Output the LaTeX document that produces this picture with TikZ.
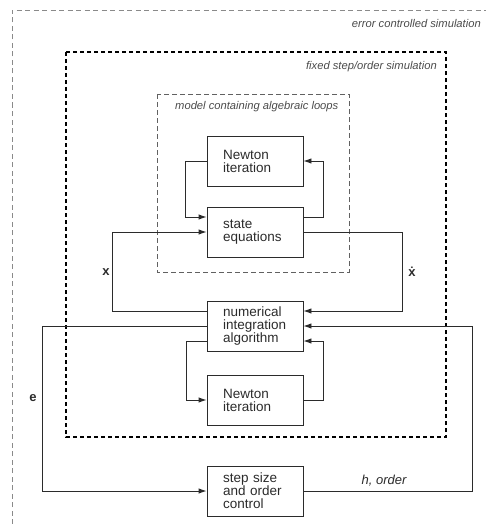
\documentclass[tikz,border=0pt]{standalone}
\usepackage{fontspec}
\setmainfont{Liberation Sans}
\usetikzlibrary{arrows.meta}
\definecolor{ink}{HTML}{2B2B2B}
\definecolor{frame}{HTML}{8A8A8A}
\tikzset{
    block/.style={draw=ink, line width=0.9pt, minimum width=96pt, minimum height=50pt,
        text width=64pt, inner xsep=16pt, align=left, text=ink,
        font=\fontsize{13.5}{13}\selectfont},
    flow/.style={draw=ink, line width=0.9pt, -{Latex[length=8pt,width=5.5pt]}},
    boxlabel/.style={font=\fontsize{11.2}{13}\selectfont\itshape, text=ink!85, inner sep=0pt},
    sigmark/.style={font=\fontsize{13}{15}\selectfont\bfseries, text=ink}
}
\begin{document}
\begin{tikzpicture}[x=1pt, y=-1pt]
        \useasboundingbox (0,0) rectangle (486,524);
        % the three simulation layers
        \draw[frame, line width=0.6pt, dash pattern=on 5pt off 3.5pt] (12,524) -- (12,10) -- (486,10);
        \draw[black, line width=1.2pt, dash pattern=on 4pt off 3pt] (66,52) rectangle (446,437);
        \draw[frame!70!black, line width=0.7pt, dash pattern=on 5pt off 3pt] (157,94) rectangle (349,272);
        \node[boxlabel, anchor=east] (errlabel) at (481,24) {error controlled simulation};
        \node[boxlabel, anchor=east] (fixlabel) at (437,67) {fixed step/order simulation};
        \node[boxlabel, anchor=west] (modlabel) at (175,107) {model containing algebraic loops};
        % Draw the blocks
        \node[block] (newtonA) at (255,161) {Newton iteration};
        \node[block] (state) at (255,232) {state equations};
        \node[block] (num) at (255,326) {numerical integration algorithm};
        \node[block] (newtonB) at (255,400) {Newton iteration};
        \node[block] (step) at (255,491) {step size and order control};
        % algebraic loop in the model
        \draw[flow] (newtonA.west) -- ++(-21,0) |- ([yshift=15pt]state.west);
        \draw[flow] ([yshift=15pt]state.east) -- ++(20,0) |- (newtonA.east);
        % states and derivatives
        \draw[flow] ([yshift=15pt]num.west) -- ++(-94,0) |- (state.west);
        \draw[flow] (state.east) -- ++(99,0) |- ([yshift=15pt]num.east);
        \node[sigmark] (xlabel) at (106,272) {x};
        \node[sigmark] (xdotlabel) at (412,272) {\.{x}};
        % Newton loop of the integrator
        \draw[flow] ([yshift=-15pt]num.west) -- ++(-20,0) |- (newtonB.west);
        \draw[flow] (newtonB.east) -- ++(20,0) |- ([yshift=-15pt]num.east);
        % error control loop
        \draw[flow] (num.west) -- ++(-164,0) |- (step.west);
        \draw[flow] (step.east) -- ++(169,0) |- (num.east);
        \node[sigmark] (elabel) at (33,398) {e};
        \node[font=\fontsize{13}{15}\selectfont\itshape, text=ink] (hlabel) at (384,481) {h, order};
    \end{tikzpicture}
\end{document}
